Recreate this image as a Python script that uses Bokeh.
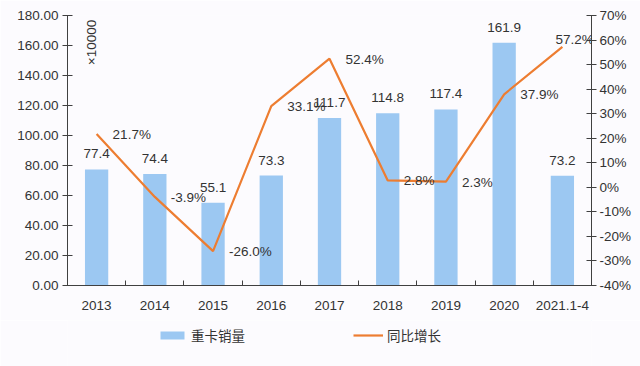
import numpy as np
from bokeh.plotting import figure
from bokeh.layouts import column
from bokeh.core.properties import value
from bokeh.models import (Range1d, LinearAxis, FixedTicker, PrintfTickFormatter,
                          ColumnDataSource, LabelSet, Label, Legend, LegendItem)
from bokeh.embed import file_html
from bokeh.resources import INLINE

# ---- data ----
categories = ["2013", "2014", "2015", "2016", "2017", "2018", "2019", "2020", "2021.1-4"]
sales = [77.4, 74.4, 55.1, 73.3, 111.7, 114.8, 117.4, 161.9, 73.2]
growth = [21.7, -3.9, -26.0, 33.1, 52.4, 2.8, 2.3, 37.9, 57.2]
left_ticks = [0, 20, 40, 60, 80, 100, 120, 140, 160, 180]
right_ticks = [-40, -30, -20, -10, 0, 10, 20, 30, 40, 50, 60, 70]
series_names = ["重卡销量", "同比增长"]

# label placement (screen px)
pct_dx = [16, 16, 16, 16, 16, 16, 16, 16, -7]
pct_dy = [-5, -5, -5, -5, -5, -5, -5, -5, 3]

BAR = "#9cc8f2"
LINE = "#ED7D31"
TXT = "#333333"
AX = "#404040"
BG = "#fcfbfe"
FONT = "Liberation Sans"
FS = "13.5px"

n = len(categories)
xs = np.arange(n) + 0.5

p = figure(width=640, height=320, x_range=Range1d(0, n),
           y_range=Range1d(left_ticks[0], left_ticks[-1]),
           output_backend="svg", toolbar_location=None,
           min_border_left=67, min_border_right=49, min_border_top=15, min_border_bottom=35)
p.background_fill_color = BG
p.border_fill_color = BG
p.outline_line_color = None
p.grid.visible = False
p.extra_y_ranges = {"pct": Range1d(right_ticks[0], right_ticks[-1])}

# bottom axis
xa = p.xaxis[0]
xa.ticker = FixedTicker(ticks=list(xs), minor_ticks=list(range(1, n)))
xa.major_label_overrides = {float(x): c for x, c in zip(xs, categories)}
xa.major_tick_line_color = None
xa.minor_tick_in = 5
xa.minor_tick_out = 0
xa.minor_tick_line_color = AX
xa.axis_line_color = AX
xa.major_label_standoff = 9
xa.major_label_text_font = FONT
xa.major_label_text_font_size = FS
xa.major_label_text_color = TXT

# left axis
ya = p.yaxis[0]
ya.ticker = FixedTicker(ticks=left_ticks)
ya.formatter = PrintfTickFormatter(format="%.2f")
ya.major_tick_in = 5
ya.major_tick_out = 5
ya.minor_tick_line_color = None
ya.axis_line_color = AX
ya.major_tick_line_color = AX
ya.major_label_standoff = 4
ya.major_label_text_font = FONT
ya.major_label_text_font_size = FS
ya.major_label_text_color = TXT

# right axis
ra = LinearAxis(y_range_name="pct", ticker=FixedTicker(ticks=right_ticks),
                formatter=PrintfTickFormatter(format="%d%%"))
ra.major_tick_in = 5
ra.major_tick_out = 5
ra.minor_tick_line_color = None
ra.axis_line_color = AX
ra.major_tick_line_color = AX
ra.major_label_standoff = 3
ra.major_label_text_font = FONT
ra.major_label_text_font_size = FS
ra.major_label_text_color = TXT
p.add_layout(ra, "right")

src = ColumnDataSource(dict(
    x=xs, sales=sales, stxt=[f"{v:.1f}" for v in sales],
    growth=growth, gtxt=[f"{v:.1f}%" for v in growth],
    dx=pct_dx, dy=pct_dy))

p.vbar(x="x", top="sales", width=0.4, source=src, fill_color=BAR, line_color=None)
p.line(x="x", y="growth", source=src, y_range_name="pct", line_color=LINE, line_width=2.2)

p.add_layout(LabelSet(x="x", y="sales", text="stxt", source=src, text_align="center",
                      text_baseline="alphabetic", y_offset=11, text_font=value(FONT),
                      text_font_size=value(FS), text_color=TXT))
p.add_layout(LabelSet(x="x", y="growth", text="gtxt", source=src, y_range_name="pct",
                      text_align="left", text_baseline="alphabetic",
                      x_offset="dx", y_offset="dy", text_font=value(FONT),
                      text_font_size=value(FS), text_color=TXT))

p.add_layout(Label(x=0.41, y=162, text="×10000", angle=np.pi / 2, text_align="center",
                   text_baseline="middle", text_font=FONT, text_font_size=FS,
                   text_color=TXT))

# legend strip (proxy glyphs sit outside its visible range)
lf = figure(width=640, height=46, output_backend="svg", toolbar_location=None,
            x_axis_type=None, y_axis_type=None,
            x_range=Range1d(0, 1), y_range=Range1d(0, 1),
            min_border_left=0, min_border_right=0, min_border_top=0, min_border_bottom=0)
lf.background_fill_color = BG
lf.border_fill_color = BG
lf.outline_line_color = None
lb = lf.vbar(x=[5], top=[5], bottom=[4], width=0.4, fill_color=BAR, line_color=None)
ll = lf.line(x=[5, 6], y=[5, 5], line_color=LINE, line_width=2.2)
legend = Legend(items=[LegendItem(label=series_names[0], renderers=[lb]),
                       LegendItem(label=series_names[1], renderers=[ll])],
                orientation="horizontal", location=(90, 21), spacing=108,
                glyph_width=30, glyph_height=10, label_standoff=4,
                padding=0, margin=0, border_line_color=None, background_fill_alpha=0,
                label_text_font="Noto Sans CJK SC", label_text_font_size=FS,
                label_text_color=TXT)
lf.add_layout(legend, "center")

open("out.html", "w").write(file_html(column(p, lf, spacing=0), INLINE))
